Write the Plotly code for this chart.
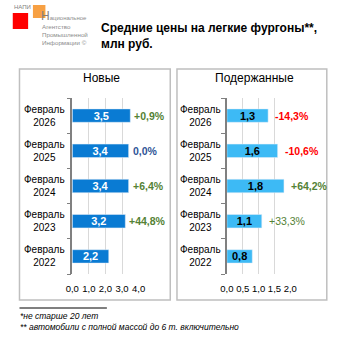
import plotly.graph_objects as go

W = H = 353

years = ["Фев 2022", "Фев 2023", "Фев 2024", "Фев 2025", "Фев 2026"]
cat_labels = ["Февраль<br>2022", "Февраль<br>2023", "Февраль<br>2024", "Февраль<br>2025", "Февраль<br>2026"]
new_vals = [2.2, 3.2, 3.4, 3.4, 3.5]
new_chg = [None, "+44,8%", "+6,4%", "0,0%", "+0,9%"]
used_vals = [0.8, 1.1, 1.8, 1.6, 1.3]
used_chg = [None, "+33,3%", "+64,2%", "-10,6%", "-14,3%"]
new_ticks = [0, 1, 2, 3, 4]
used_ticks = [0, 0.5, 1.0, 1.5, 2.0]

def px(x):
    return x / W

def py(y):
    return 1 - y / H

def chg_color(s):
    if s.startswith("+"):
        return "#548235"
    if s.startswith("-"):
        return "#FF0000"
    return "#2F5597"

FONT = "Liberation Sans, Arial, sans-serif"

fig = go.Figure()
fig.add_trace(go.Bar(
    x=new_vals, y=years, orientation="h", xaxis="x", yaxis="y",
    marker=dict(color="#0A7BD3"), width=0.38,
    text=["<b>" + f"{v:.1f}".replace(".", ",") + "</b>" for v in new_vals],
    textposition="inside", insidetextanchor="middle", constraintext="none",
    textfont=dict(color="white", size=11, family=FONT),
    hoverinfo="skip",
))
fig.add_trace(go.Bar(
    x=used_vals, y=years, orientation="h", xaxis="x2", yaxis="y2",
    marker=dict(color="#3DBAF5"), width=0.38,
    text=["<b>" + f"{v:.1f}".replace(".", ",") + "</b>" for v in used_vals],
    textposition="inside", insidetextanchor="middle", constraintext="none",
    textfont=dict(color="black", size=11, family=FONT),
    hoverinfo="skip",
))

ydom = [py(274), py(98)]
yax = dict(
    type="category", categoryorder="array", categoryarray=years,
    showticklabels=False, ticks="outside", tickson="boundaries", ticklen=4,
    tickcolor="#808080", showline=True, linecolor="#808080", linewidth=1.5,
    showgrid=False, fixedrange=True, domain=ydom,
)
xax = dict(
    showgrid=True, gridcolor="#D9D9D9", gridwidth=1, zeroline=False, showline=False,
    tickformat=".1f", tickfont=dict(size=9.5, family=FONT, color="black"),
    ticks="", ticklabelstandoff=7, fixedrange=True,
)

fig.update_layout(
    width=W, height=H, margin=dict(l=0, r=0, t=0, b=0),
    paper_bgcolor="white", plot_bgcolor="white", showlegend=False,
    separators=", ",
    font=dict(family=FONT, color="black"),
    xaxis=dict(xax, domain=[px(68), px(137)], range=[0, 4.0], tickvals=new_ticks, anchor="y"),
    yaxis=dict(yax, anchor="x"),
    xaxis2=dict(xax, domain=[px(229), px(295)], range=[0, 2.0], tickvals=used_ticks, anchor="y2"),
    yaxis2=dict(yax, anchor="x2"),
)

annotations = []
shapes = []

for x0, x1 in [(13, 170), (177, 333)]:
    shapes.append(dict(type="rect", xref="paper", yref="paper",
                       x0=px(x0), x1=px(x1), y0=py(300), y1=py(69),
                       line=dict(color="#BFBFBF", width=1.5), layer="below"))

annotations.append(dict(text="Новые", xref="paper", yref="paper", x=px(98), y=py(78),
                        showarrow=False, font=dict(size=12, family=FONT), xanchor="center", yanchor="middle"))
annotations.append(dict(text="Подержанные", xref="paper", yref="paper", x=px(258), y=py(78),
                        showarrow=False, font=dict(size=12, family=FONT), xanchor="center", yanchor="middle"))

for yr, lab in zip(years, cat_labels):
    annotations.append(dict(text=lab, xref="paper", yref="y", x=px(39), y=yr, showarrow=False,
                            align="center", xanchor="center", yanchor="middle",
                            font=dict(size=10, family=FONT)))
    annotations.append(dict(text=lab, xref="paper", yref="y2", x=px(201), y=yr, showarrow=False,
                            align="center", xanchor="center", yanchor="middle",
                            font=dict(size=10, family=FONT)))

for yr, v, c in zip(years, new_vals, new_chg):
    if c:
        annotations.append(dict(text="<b>" + c + "</b>", xref="x", yref="y", x=v, y=yr, showarrow=False,
                                xanchor="left", yanchor="middle", xshift=2,
                                font=dict(size=10.5, family=FONT, color=chg_color(c))))
for yr, v, c in zip(years, used_vals, used_chg):
    if c:
        t = c if c == "+33,3%" else "<b>" + c + "</b>"
        annotations.append(dict(text=t, xref="x2", yref="y2", x=v, y=yr, showarrow=False,
                                xanchor="left", yanchor="middle", xshift=5,
                                font=dict(size=10.5, family=FONT, color=chg_color(c))))

annotations.append(dict(text="<b>Средние цены на легкие фургоны**,<br>млн руб.</b>", xref="paper", yref="paper",
                        x=px(96), y=py(36), showarrow=False, align="left", xanchor="left", yanchor="middle",
                        font=dict(size=12, family=FONT, color="black")))

# Logo
shapes.append(dict(type="rect", xref="paper", yref="paper", x0=px(27), x1=px(40), y0=py(18), y1=py(5),
                   fillcolor="#F7A043", line=dict(width=0)))
shapes.append(dict(type="rect", xref="paper", yref="paper", x0=px(6), x1=px(22), y0=py(29), y1=py(13),
                   fillcolor="#FF0000", line=dict(width=0)))
annotations.append(dict(text="НАПИ", xref="paper", yref="paper", x=px(6), y=py(7), showarrow=False,
                        xanchor="left", yanchor="middle", borderpad=0,
                        font=dict(size=6, family=FONT, color="#7F7F7F")))
annotations.append(dict(text="<span style='font-size:12px;color:#7F7F7F'>Н</span>ациональное",
                        xref="paper", yref="paper", x=px(34), y=py(15.5), showarrow=False,
                        xanchor="left", yanchor="middle", borderpad=0,
                        font=dict(size=6, family=FONT, color="#8C8C8C")))
annotations.append(dict(text="Агентство<br>Промышленной<br>Информации ©", xref="paper", yref="paper",
                        x=px(35), y=py(35), showarrow=False, align="left",
                        xanchor="left", yanchor="middle", borderpad=0,
                        font=dict(size=6.2, family=FONT, color="#8C8C8C")))

# Footnotes
shapes.append(dict(type="line", xref="paper", yref="paper", x0=px(13), x1=px(104), y0=py(308), y1=py(308),
                   line=dict(color="black", width=1)))
annotations.append(dict(text="<i>*не старше 20 лет</i>", xref="paper", yref="paper", x=px(13), y=py(316),
                        showarrow=False, xanchor="left", yanchor="middle", borderpad=0,
                        font=dict(size=8.5, family=FONT)))
annotations.append(dict(text="<i>** автомобили с полной массой до 6 т. включительно</i>", xref="paper", yref="paper",
                        x=px(13), y=py(326.5), showarrow=False, xanchor="left", yanchor="middle", borderpad=0,
                        font=dict(size=8.5, family=FONT)))

fig.update_layout(annotations=annotations, shapes=shapes)
fig.write_html("out.html")
